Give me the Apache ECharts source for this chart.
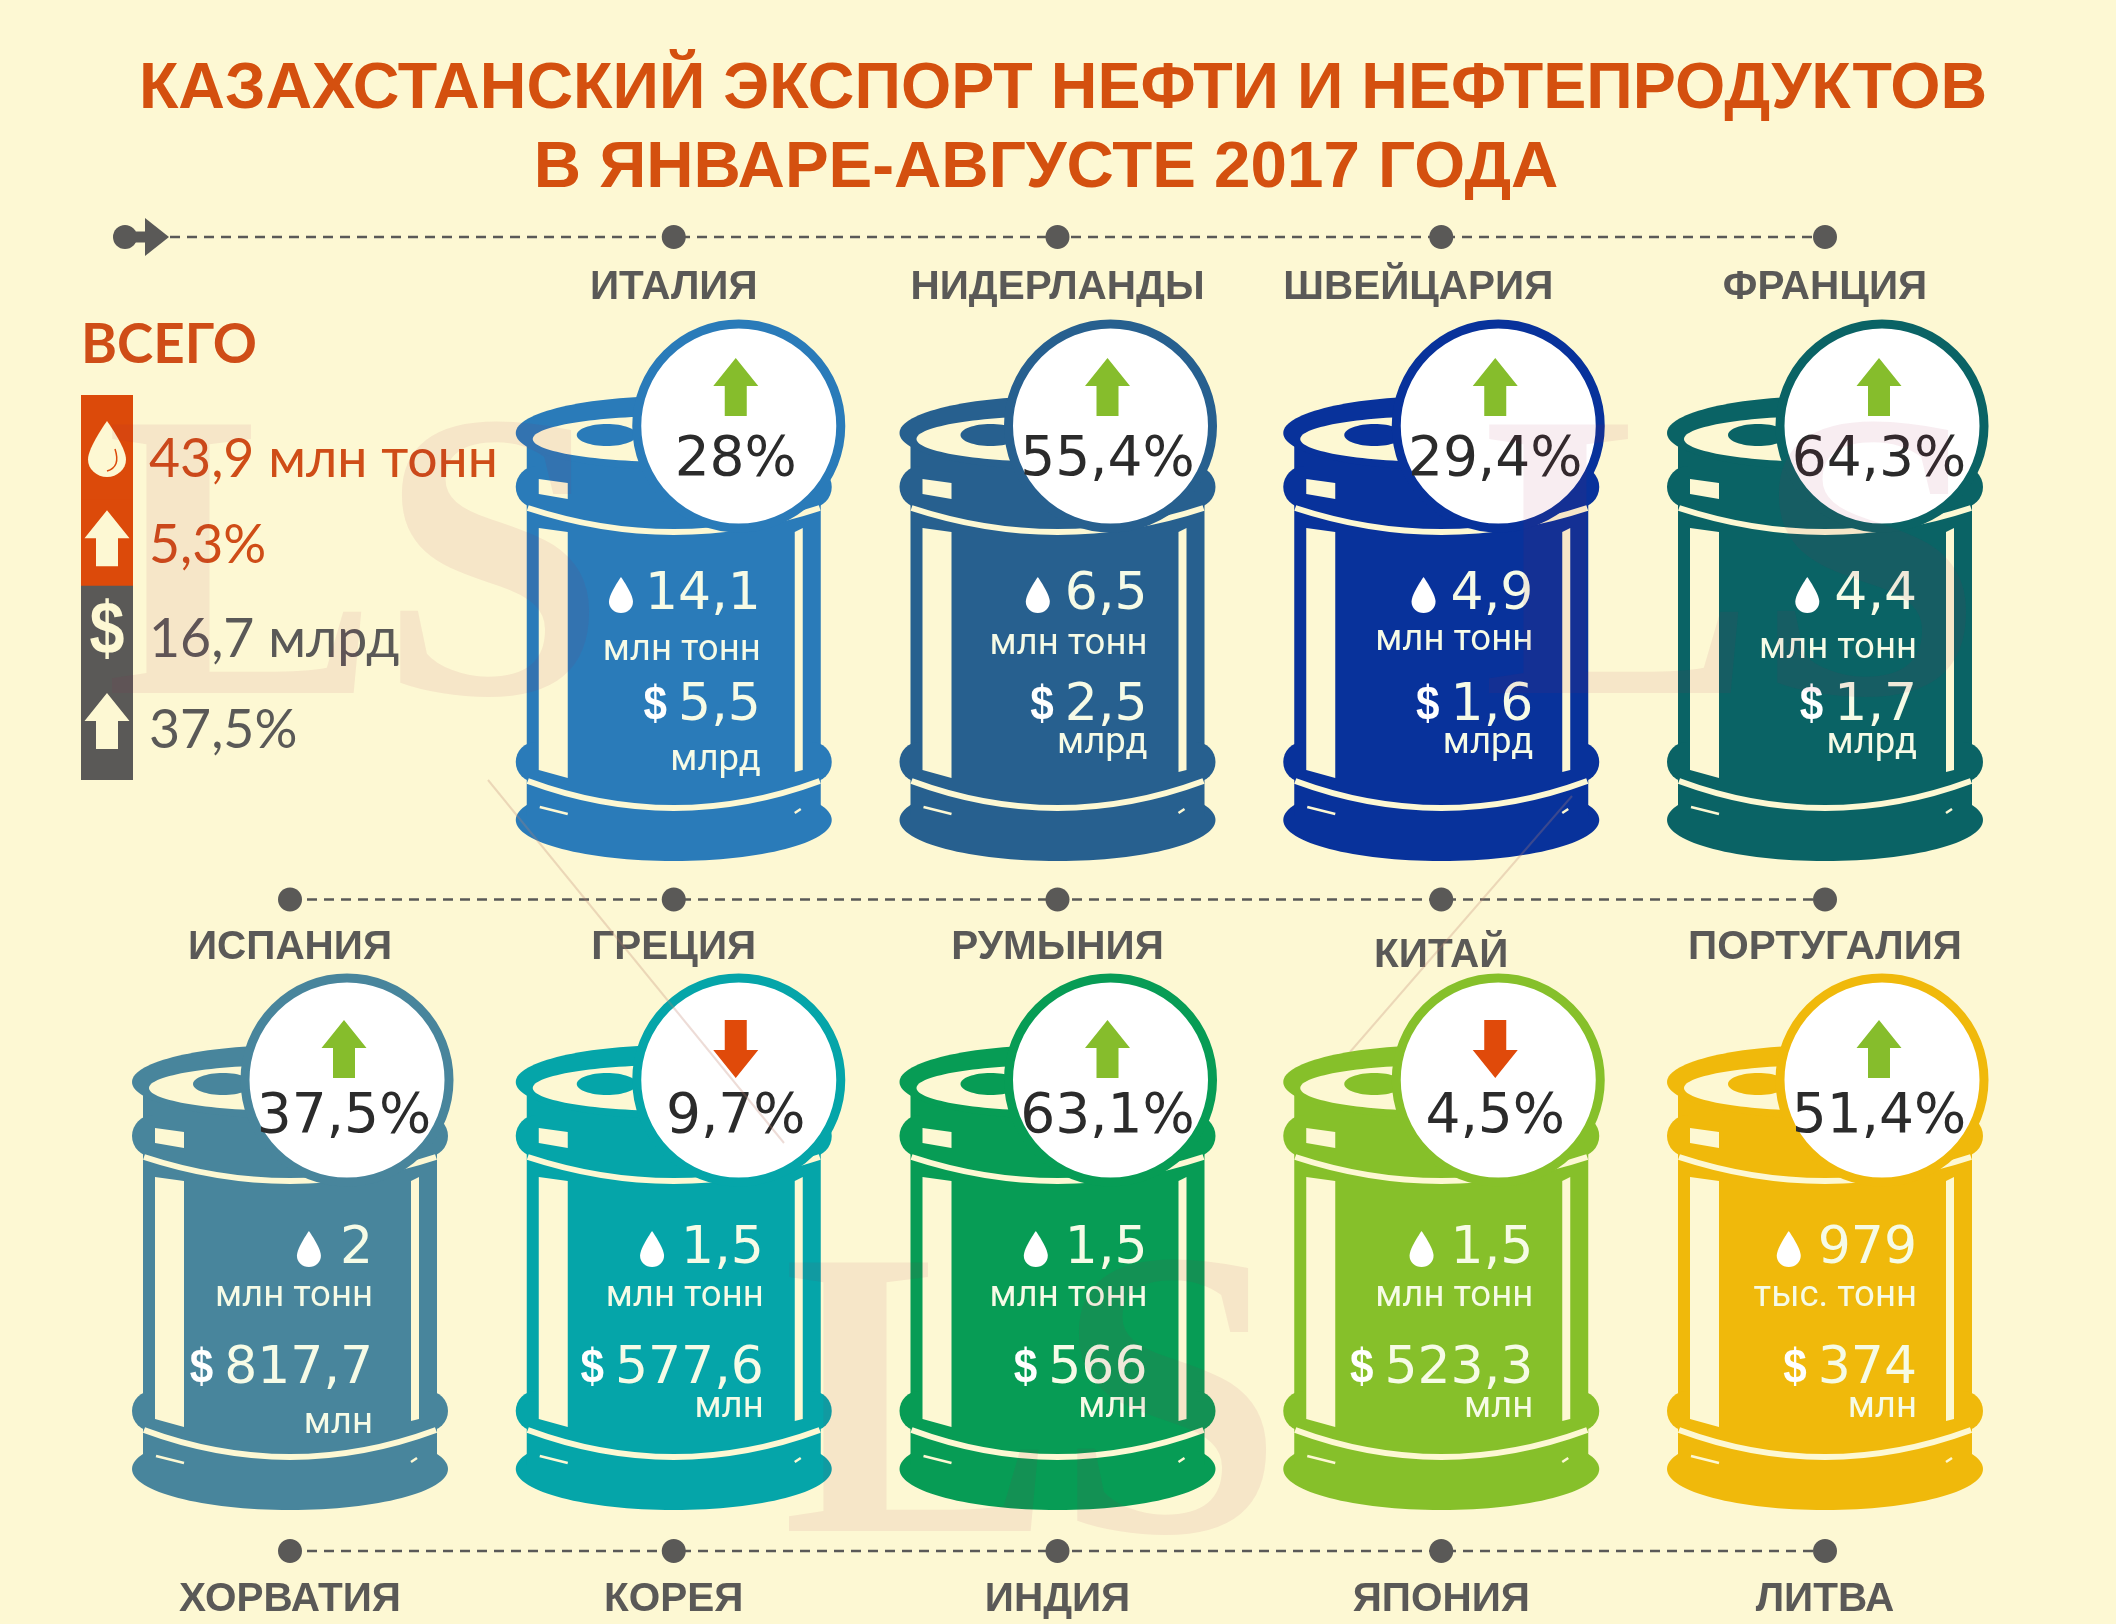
<!DOCTYPE html>
<html><head><meta charset="utf-8">
<style>html,body{margin:0;padding:0;background:#fdf8d3}#c{width:2116px;height:1624px}</style>
<script src="https://cdn.jsdelivr.net/npm/echarts@6/dist/echarts.min.js"></script>
</head><body><div id="c"></div>
<script>
// ---------- data ----------
const titleLines = ['КАЗАХСТАНСКИЙ ЭКСПОРТ НЕФТИ И НЕФТЕПРОДУКТОВ', 'В ЯНВАРЕ-АВГУСТЕ 2017 ГОДА'];
const totalHeading = 'ВСЕГО';
const totalLabels = ['43,9 млн тонн', '5,3%', '16,7 млрд', '37,5%'];
const totalIcons = ['drop', 'up', 'dollar', 'up'];

const namesRowA = ['ИТАЛИЯ', 'НИДЕРЛАНДЫ', 'ШВЕЙЦАРИЯ', 'ФРАНЦИЯ'];
const namesRowB = ['ИСПАНИЯ', 'ГРЕЦИЯ', 'РУМЫНИЯ', 'КИТАЙ', 'ПОРТУГАЛИЯ'];
const namesRowC = ['ХОРВАТИЯ', 'КОРЕЯ', 'ИНДИЯ', 'ЯПОНИЯ', 'ЛИТВА'];

const volumes = ['14,1', '6,5', '4,9', '4,4', '2', '1,5', '1,5', '1,5', '979'];
const volumeUnits = ['млн тонн', 'млн тонн', 'млн тонн', 'млн тонн', 'млн тонн', 'млн тонн', 'млн тонн', 'млн тонн', 'тыс. тонн'];
const amounts = ['5,5', '2,5', '1,6', '1,7', '817,7', '577,6', '566', '523,3', '374'];
const amountUnits = ['млрд', 'млрд', 'млрд', 'млрд', 'млн', 'млн', 'млн', 'млн', 'млн'];
const changes = ['28%', '55,4%', '29,4%', '64,3%', '37,5%', '9,7%', '63,1%', '4,5%', '51,4%'];
const directions = ['up', 'up', 'up', 'up', 'up', 'down', 'up', 'down', 'up'];

// ---------- styles ----------
const BG = '#fdf8d3', INK = '#5a5957', ORANGE = '#dc4a0a', RED = '#e04a0a', GREEN = '#86bd2c';
const barrelColors = ['#2a7bb9', '#27608f', '#08329b', '#0a6365', '#48859c', '#05a5a9', '#079c55', '#86c02a', '#f0b90b'];
const LIGHT = '#f6fbe6';
const DROP = 'M10 0C10 0 20 15 20 22A10 10 0 0 1 0 22C0 15 10 0 10 0Z';
const DOLLAR_FONT = 'bold 48px "Liberation Sans"';
const NUM_FONT = '52px "DejaVu Sans"';
const UNIT_FONT = '36.5px Roboto';
const ctx = document.createElement('canvas').getContext('2d');
function tw(t, f) { ctx.font = f; return ctx.measureText(t).width; }

// ---------- layout (pixel tweaks relative to the axes) ----------
const circleDx = [57, 65, 53, 57, 57];
const numRight = { 0: [0, 87, 90, 92, 92], 1: [83, 90, 90, 92, 92] };
const unit1Y = { 0: [0, 255, 249, 245, 253], 1: [252, 252, 252, 252, 252] };
const unit2Y = { 0: [0, 365, 348, 348, 348], 1: [379, 363, 363, 363, 363] };
const dropGap = { 0: [0, 24, 27, 27, 27], 1: [31, 29, 29, 29, 29] };

function arrowPts(cx, top, dir) {
  const h = 58, hw = 22.5, sw = 11, hh = 28;
  if (dir === 'up') return [[cx, top], [cx + hw, top + hh], [cx + sw, top + hh], [cx + sw, top + h], [cx - sw, top + h], [cx - sw, top + hh], [cx - hw, top + hh]];
  return [[cx - sw, top], [cx + sw, top], [cx + sw, top + h - hh], [cx + hw, top + h - hh], [cx, top + h], [cx - hw, top + h - hh], [cx - sw, top + h - hh]];
}

function barrelShapes(c) {
  const f = { fill: c };
  const l = { fill: BG };
  const curve = (y0, cy, w) => ({ type: 'bezierCurve', shape: { x1: -146, y1: y0, x2: 146, y2: y0, cpx1: 0, cpy1: cy }, style: { fill: null, stroke: BG, lineWidth: w } });
  return [
    { type: 'ellipse', shape: { cx: 0, cy: 424, rx: 158, ry: 41 }, style: f },
    { type: 'rect', shape: { x: -147, y: 50, width: 294, height: 370 }, style: f },
    { type: 'rect', shape: { x: -158, y: 70, width: 316, height: 42, r: 21 }, style: f },
    { type: 'rect', shape: { x: -158, y: 346, width: 316, height: 40, r: 20 }, style: f },
    { type: 'ellipse', shape: { cx: 0, cy: 37, rx: 158, ry: 37 }, style: f },
    { type: 'ellipse', shape: { cx: 0, cy: 43, rx: 141, ry: 23 }, style: l },
    { type: 'ellipse', shape: { cx: -67, cy: 39, rx: 30, ry: 11 }, style: f },
    { type: 'polygon', shape: { points: [[-135, 83], [-106, 87], [-106, 103], [-135, 98]] }, style: l },
    { type: 'polygon', shape: { points: [[-135, 132], [-106, 136], [-106, 382], [-135, 374]] }, style: l },
    { type: 'polygon', shape: { points: [[121, 136], [129, 132], [129, 374], [121, 376]] }, style: l },
    curve(112, 160, 6),
    curve(385, 439, 6),
    { type: 'line', shape: { x1: -134, y1: 411, x2: -106, y2: 418 }, style: { stroke: BG, lineWidth: 2.5 } },
    { type: 'line', shape: { x1: 121, y1: 417, x2: 127, y2: 413 }, style: { stroke: BG, lineWidth: 2.5 } }
  ];
}

function renderBarrel(params, api) {
  const i = params.dataIndex, col = api.value(0), row = api.value(1);
  const p = api.coord([col, row]);
  const color = barrelColors[i];
  const top = row === 0;
  const cdx = circleDx[col], ccy = top ? 30 : 35;
  const rx = numRight[row][col];
  const numY = top ? 199 : 204, valY = top ? 310 : 324;
  const nW = tw(volumes[i], NUM_FONT), vW = tw(amounts[i], NUM_FONT);
  const txt = (t, x, y, font, fill, al) => ({ type: 'text', style: { text: t, x, y, font, fill, textAlign: al || 'right', textVerticalAlign: 'middle' } });
  return {
    type: 'group', x: p[0], y: p[1],
    children: barrelShapes(color).concat([
      { type: 'circle', shape: { cx: cdx, cy: ccy, r: 102 }, style: { fill: '#fff', stroke: color, lineWidth: 9 } },
      { type: 'polygon', shape: { points: arrowPts(cdx - 3, ccy + (top ? -68 : -60), directions[i]) }, style: { fill: directions[i] === 'up' ? GREEN : RED } },
      txt(changes[i], cdx - 3, ccy + (top ? 35 : 38), '55px "DejaVu Sans"', '#2b2b2b', 'center'),
      { type: 'path', shape: { pathData: DROP, x: rx - nW - dropGap[row][col] - 12, y: numY - 18, width: 24, height: 36, layout: 'cover' }, style: { fill: '#fff' } },
      txt(volumes[i], rx, numY, NUM_FONT, LIGHT),
      txt(volumeUnits[i], rx, unit1Y[row][col], UNIT_FONT, LIGHT),
      { type: 'text', x: rx - vW - 11, y: valY, scaleX: 0.88, style: { text: '$', x: 0, y: 0, font: DOLLAR_FONT, fill: '#fff', textAlign: 'right', textVerticalAlign: 'middle' } },
      txt(amounts[i], rx, valY, NUM_FONT, LIGHT),
      txt(amountUnits[i], rx, unit2Y[row][col], UNIT_FONT, LIGHT)
    ])
  };
}

function renderRoute(params, api) {
  const row = api.value(0);
  const a = api.coord([0, row]), b = api.coord([4, row]);
  const dy = row === 1 ? 5.5 : 0;
  const y = a[1] + dy;
  const kids = [{ type: 'line', shape: { x1: row === 0 ? a[0] - 120 : a[0], y1: y, x2: b[0], y2: y }, style: { stroke: INK, lineWidth: 2.5, lineDash: [10, 7] } }];
  if (row === 0) {
    kids.push({ type: 'circle', shape: { cx: a[0] - 165, cy: y, r: 12 }, style: { fill: INK } });
    kids.push({ type: 'line', shape: { x1: a[0] - 160, y1: y, x2: a[0] - 140, y2: y }, style: { stroke: INK, lineWidth: 11 } });
    kids.push({ type: 'polygon', shape: { points: [[a[0] - 145, y - 19], [a[0] - 121, y], [a[0] - 145, y + 19]] }, style: { fill: INK } });
  }
  return { type: 'group', children: kids };
}

function labelDy(name, row) { return name === 'КИТАЙ' ? 56 : (row === 1 ? 48 : (row === 0 ? 51 : 49)); }
function renderStop(params, api) {
  const col = api.value(0), row = api.value(1);
  const p = api.coord([col, row]);
  const dy = row === 1 ? 5.5 : 0;
  const name = stops[params.dataIndex].name;
  return {
    type: 'group', x: p[0], y: p[1] + dy,
    children: [
      { type: 'ellipse', shape: { cx: 0, cy: 0, rx: 12, ry: 12 }, style: { fill: INK } },
      { type: 'text', style: { text: name, x: name === 'ШВЕЙЦАРИЯ' ? -23 : 0, y: labelDy(name, row), font: 'bold 40.5px "Liberation Sans"', fill: INK, textAlign: 'center', textVerticalAlign: 'middle' } }
    ]
  };
}

const bands = [[-62, 44], [-49, 42], [-54, 45], [-49, 49]];
const labelShift = [3, -3, 0, 0];
function renderTotal(params, api) {
  const row = api.value(1);
  const p = api.coord([0, row]);
  const orange = row < 2;
  const icon = totalIcons[row];
  const kids = [{ type: 'rect', shape: { x: -26, y: bands[row][0], width: 52, height: bands[row][1] - bands[row][0] }, style: { fill: orange ? ORANGE : INK } }];
  if (icon === 'drop') {
    kids.push({ type: 'path', shape: { pathData: DROP, x: -19, y: -36, width: 38, height: 56, layout: 'cover' }, style: { fill: BG } });
    kids.push({ type: 'bezierCurve', shape: { x1: 8, y1: -8, x2: 0, y2: 14, cpx1: 14, cpy1: 10 }, style: { fill: null, stroke: ORANGE, lineWidth: 1.5 } });
  }
  if (icon === 'up') kids.push({ type: 'polygon', shape: { points: [[0, -38], [22.5, -10], [11, -10], [11, 18], [-11, 18], [-11, -10], [-22.5, -10]] }, style: { fill: BG } });
  if (icon === 'dollar') kids.push({ type: 'text', x: 0, y: -7, scaleX: 0.85, style: { text: '$', x: 0, y: 0, font: 'bold 74px "Liberation Sans"', fill: BG, textAlign: 'center', textVerticalAlign: 'middle' } });
  kids.push({ type: 'text', style: { text: totalLabels[row], x: 42, y: labelShift[row], font: '53.6px Lato', fill: orange ? '#cf4d17' : INK, textAlign: 'left', textVerticalAlign: 'middle' } });
  return { type: 'group', x: p[0], y: p[1], children: kids };
}

// ---------- data tables for the series ----------
const stops = [];
namesRowA.forEach((name, i) => stops.push({ name, value: [i + 1, 0] }));
namesRowB.forEach((name, i) => stops.push({ name, value: [i, 1] }));
namesRowC.forEach((name, i) => stops.push({ name, value: [i, 2] }));
const barrelData = volumes.map((v, i) => i < namesRowA.length ? [i + 1, 0] : [i - namesRowA.length, 1]);
const colCats = ['a', 'b', 'c', 'd', 'e'];
const hidden = { show: false, type: 'category', boundaryGap: false };

const chart = echarts.init(document.getElementById('c'), null, { renderer: 'canvas', width: 2116, height: 1624 });
const wm = (x, y) => ({ type: 'text', x, y, z: 100, silent: true, style: { text: 'LS', font: 'bold 410px "Liberation Serif"', fill: 'rgba(166,23,74,0.08)', textVerticalAlign: 'middle' } });
const hair = (x1, y1, x2, y2) => ({ type: 'line', z: 100, silent: true, shape: { x1, y1, x2, y2 }, style: { stroke: 'rgba(190,130,110,0.28)', lineWidth: 2 } });

chart.setOption({
  animation: false,
  backgroundColor: BG,
  title: [
    { text: titleLines[0], left: 1058, top: 53, textAlign: 'center', textStyle: { fontFamily: 'Liberation Sans', fontWeight: 'bold', fontSize: 64.6, color: '#d4500f' } },
    { text: titleLines[1], left: 1041, top: 131, textAlign: 'center', textStyle: { fontFamily: 'Liberation Sans', fontWeight: 'bold', fontSize: 65.5, color: '#d4500f' } }
  ],
  grid: [
    { left: 290, width: 1535, top: 396, height: 649 },
    { left: 290, width: 1535, top: 237, height: 1314 },
    { left: 107, width: 42, top: 457, height: 274 }
  ],
  xAxis: [
    Object.assign({ gridIndex: 0, data: colCats }, hidden),
    Object.assign({ gridIndex: 1, data: colCats }, hidden),
    Object.assign({ gridIndex: 2, data: ['icon', 'text'] }, hidden)
  ],
  yAxis: [
    Object.assign({ gridIndex: 0, data: ['r1', 'r2'], inverse: true }, hidden),
    Object.assign({ gridIndex: 1, data: ['r1', 'r2', 'r3'], inverse: true }, hidden),
    Object.assign({ gridIndex: 2, data: totalLabels, inverse: true }, hidden)
  ],
  graphic: {
    elements: [
      wm(105, 587), wm(1482, 587), wm(782, 1425),
      hair(488, 780, 784, 1143), hair(1572, 796, 1350, 1052),
      { type: 'text', x: 81, y: 345, style: { text: totalHeading, font: 'bold 54.7px Lato', fill: '#cf4d17', textVerticalAlign: 'middle' } }
    ]
  },
  series: [
    { type: 'custom', name: 'routes', xAxisIndex: 1, yAxisIndex: 1, clip: false, data: [[0], [1], [2]], encode: { y: 0 }, renderItem: renderRoute, z: 1 },
    { type: 'custom', name: 'stops', xAxisIndex: 1, yAxisIndex: 1, clip: false, data: stops, renderItem: renderStop, z: 2 },
    { type: 'custom', name: 'barrels', xAxisIndex: 0, yAxisIndex: 0, clip: false, data: barrelData, renderItem: renderBarrel, z: 3 },
    { type: 'custom', name: 'totals', xAxisIndex: 2, yAxisIndex: 2, clip: false, data: totalLabels.map((t, i) => [0, i]), renderItem: renderTotal, z: 4 }
  ]
});
</script></body></html>
